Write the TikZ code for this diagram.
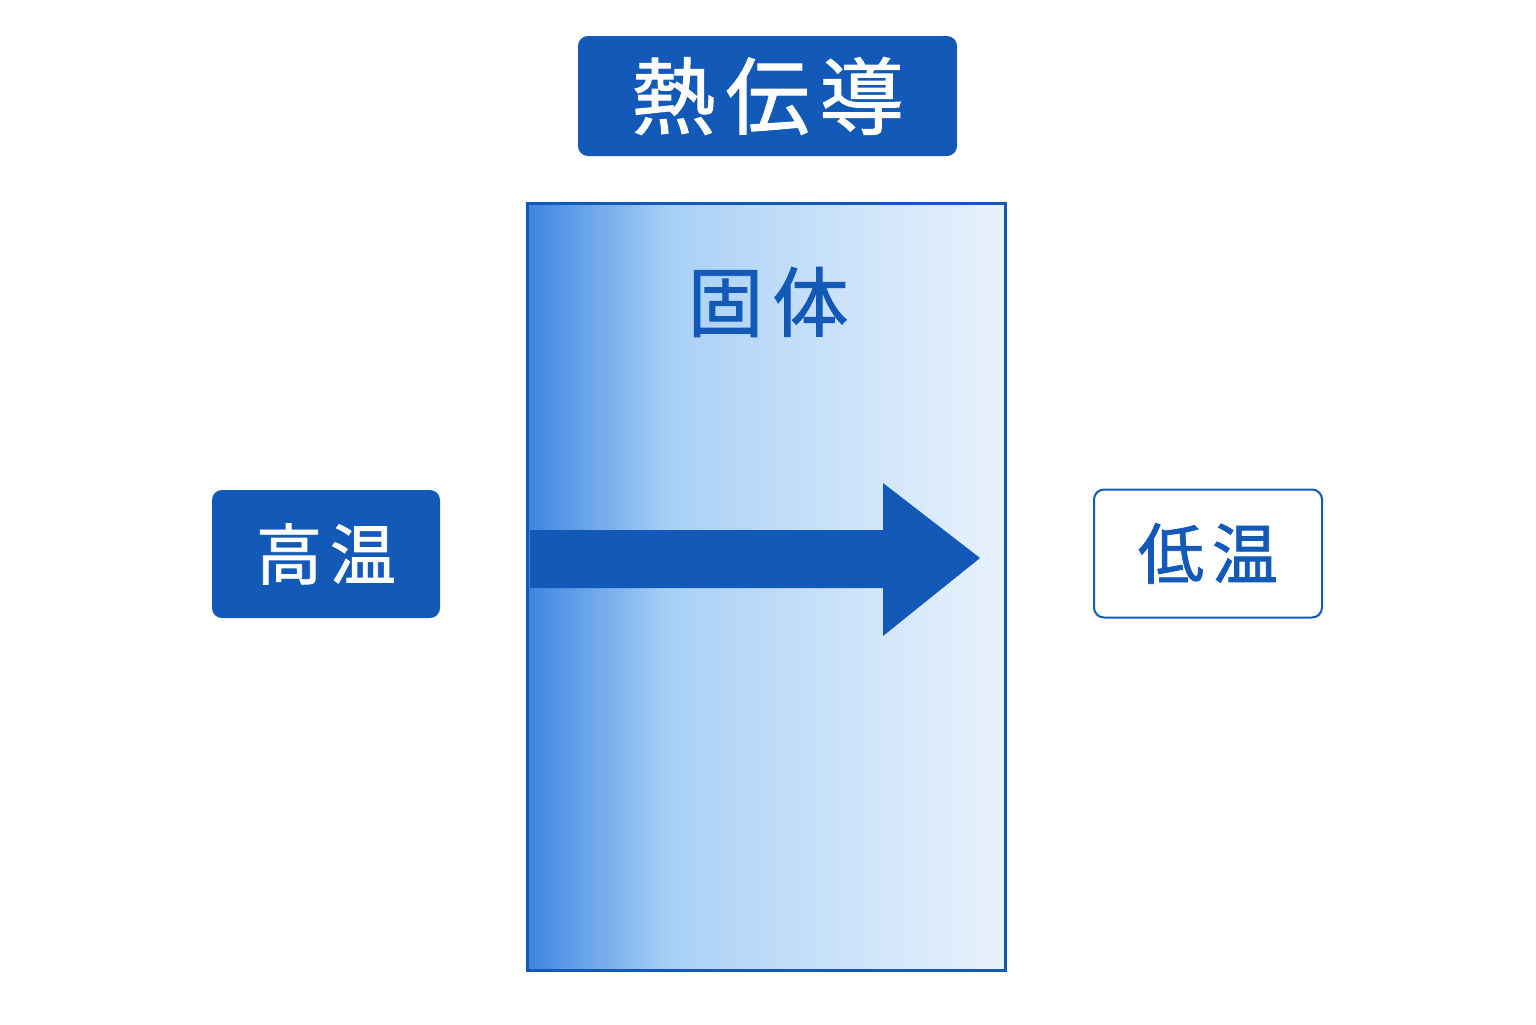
\documentclass[tikz,border=0pt]{standalone}
\usepackage{fontspec}
\newfontfamily\cjk{Noto Sans CJK JP}[LetterSpace=12,FakeBold=1.2]
\usetikzlibrary{positioning}
\definecolor{heatblue}{HTML}{1259B8}
\definecolor{hotside}{HTML}{3D85E0}
\definecolor{midside}{HTML}{A9D0F6}
\definecolor{coldside}{HTML}{E8F2FC}
\pgfdeclarehorizontalshading{solidgrad}{100bp}{color(0bp)=(hotside); color(25bp)=(hotside); color(40bp)=(midside); color(58bp)=(coldside!55!midside); color(75bp)=(coldside); color(100bp)=(coldside)}
\begin{document}
\begin{tikzpicture}[x=0.5pt,y=-0.5pt,
	label box/.style={rectangle,rounded corners=5pt,minimum width=114pt,minimum height=64pt,font=\cjk\fontsize{33}{33}\selectfont},
	hot box/.style={label box,fill=heatblue,text=white},
	cold box/.style={label box,draw=heatblue,line width=1pt,fill=white,text=heatblue}]
	\useasboundingbox (0,0) rectangle (1536,1024);
	
	\node[rectangle,rounded corners=5pt,fill=heatblue,text=white,minimum width=189.5pt,minimum height=60pt,font=\cjk\fontsize{42}{42}\selectfont] (title) at (767.5,96) {熱伝導};
	\node[rectangle,draw=heatblue,line width=1.5pt,shading=solidgrad,minimum width=239pt,minimum height=383.5pt] (solid) at (766,586.5) {};
	\node[text=heatblue,font=\cjk\fontsize{38}{38}\selectfont] (solidlabel) at (768,302) {固体};
	
	\node[hot box] (hot) at (326,554) {高温};
	\node[cold box] (cold) at (1208,553.5) {低温};
	
	% heat flow arrow
	\fill[heatblue] (530,530) -- (883,530) -- (883,483) -- (980,558) -- (883,636) -- (883,588) -- (530,588) -- cycle;
\end{tikzpicture}
\end{document}
